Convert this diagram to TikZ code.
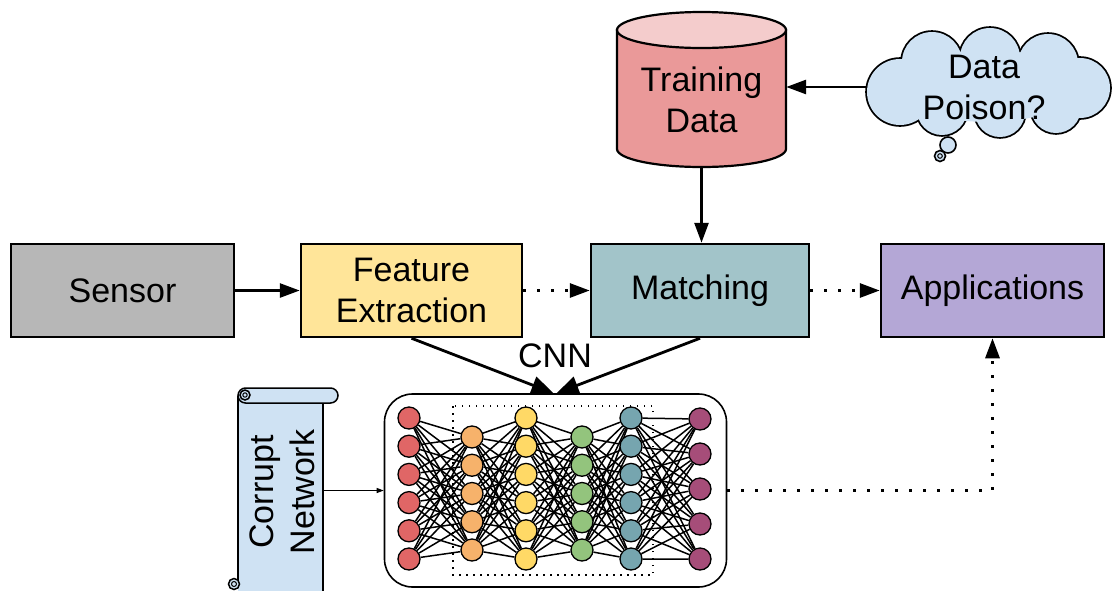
\documentclass[tikz,border=0pt]{standalone}
\usepackage{fontspec}
\setmainfont{Liberation Sans}
\usetikzlibrary{arrows.meta,backgrounds,calc}

\definecolor{sensorgray}{HTML}{B7B7B7}
\definecolor{featyellow}{HTML}{FFE599}
\definecolor{matchteal}{HTML}{A2C4C9}
\definecolor{apppurple}{HTML}{B4A7D6}
\definecolor{dbbody}{HTML}{EA9999}
\definecolor{dbtop}{HTML}{F4CCCC}
\definecolor{paleblue}{HTML}{CFE2F3}
\definecolor{nnred}{HTML}{E06666}
\definecolor{nnorange}{HTML}{F6B26B}
\definecolor{nnyellow}{HTML}{FFD966}
\definecolor{nngreen}{HTML}{93C47D}
\definecolor{nnteal}{HTML}{76A5AF}
\definecolor{nnpurple}{HTML}{A64D79}

\begin{document}
\begin{tikzpicture}[x=1pt,y=-1pt,
  lbl/.style={font=\fontsize{34}{41}\selectfont, align=center},
  stagebox/.style={draw, line width=2.5pt, minimum height=93pt, inner sep=2pt, lbl},
  flow/.style={line width=2.8pt, -{Triangle[length=20pt,width=14pt]}},
  dotflow/.style={line width=3pt, dash pattern=on 3pt off 11pt, -{Triangle[length=20pt,width=14pt]}},
  feed/.style={line width=2.8pt, -{Triangle[length=22pt,width=18pt]}},
  nnode/.style={circle, draw, line width=1.3pt, minimum size=22pt, inner sep=0pt},
  nnedge/.style={line width=1.5pt},
  thinline/.style={line width=1.5pt}
]
\useasboundingbox (0,0) rectangle (1114,590);

% pipeline stages
\node[stagebox, fill=sensorgray, minimum width=223pt] (sensor) at (122.5,290.5) {Sensor};
\node[stagebox, fill=featyellow, minimum width=221pt] (feat) at (411.5,290.5) {Feature\\Extraction};
\node[stagebox, fill=matchteal, minimum width=218pt] (match) at (700,290.5) {Matching};
\node[stagebox, fill=apppurple, minimum width=223pt] (app) at (992.5,290.5) {Applications};

% training data cylinder
\node[minimum width=169pt, minimum height=155pt, inner sep=0pt] (train) at (701.5,89.5) {};
\draw[line width=2.2pt, fill=dbbody] (617,30) -- (617,149)
  arc[start angle=180, end angle=0, x radius=84.5, y radius=18] -- (786,30) -- cycle;
\draw[line width=2.2pt, fill=dbtop] (701.5,30) ellipse [x radius=84.5, y radius=18];
\node[lbl] at (701.5,100) {Training\\Data};

% thought cloud: union of puffs (stroke wide, then fill over the inner half)
\def\puffs{(900,92)/33, (932,62)/30, (990,58)/30, (1048,64)/30, (1080,88)/30,
  (1056,108)/25, (1000,112)/25, (942,110)/25}
\foreach \c/\r in \puffs { \draw[line width=3.6pt] \c circle (\r pt); }
\foreach \c/\r in \puffs { \fill[paleblue] \c circle (\r pt); }
\fill[paleblue] (988,86) ellipse [x radius=90, y radius=36];
\draw[line width=1.6pt, fill=paleblue] (948,145) circle (8pt);
\draw[line width=1.6pt, fill=paleblue] (940,156) circle (5.5pt);
\draw[line width=1pt] (940,156) circle (2.3pt);
\node[lbl, minimum width=234pt, minimum height=105pt, inner sep=0pt] (poison) at (984,87) {Data\\Poison?};

% scroll
\begin{scope}
  \clip (0,0) rectangle (1114,590);
  \fill[paleblue] (238,398) rectangle (323,600);
  \draw[thinline] (238,396) -- (238,580);
  \draw[thinline] (323,403) -- (323,600);
  \draw[thinline, fill=paleblue, rounded corners=7.5pt] (238,388) rectangle (338,403);
  \draw[thinline, fill=paleblue] (245,395) circle (5pt);
  \draw[line width=1pt] (245,395) circle (2.2pt);
  \draw[thinline, fill=paleblue] (234,584) circle (5.5pt);
  \draw[line width=1pt] (234,584) circle (2.5pt);
\end{scope}
\node[minimum width=85pt, minimum height=200pt, inner sep=0pt] (scroll) at (280.5,495) {};
\node[lbl, rotate=90] at (282,492) {Corrupt\\Network};

% network frame
\node[draw, line width=1.6pt, rounded corners=28pt, minimum width=342pt, minimum height=193pt]
  (nnbox) at (555.5,490.5) {};
\draw[line width=1.5pt, dash pattern=on 1.5pt off 5.5pt] (453,406) rectangle (653,575);

% neurons
\foreach \i in {1,...,6} {
  \node[nnode, fill=nnred]    (a\i) at (409, {418+28.2*(\i-1)}) {};
  \node[nnode, fill=nnyellow] (c\i) at (526, {418+28.2*(\i-1)}) {};
  \node[nnode, fill=nnteal]   (e\i) at (631, {418+28.2*(\i-1)}) {};
}
\foreach \i in {1,...,5} {
  \node[nnode, fill=nnorange] (b\i) at (472, {437+28.25*(\i-1)}) {};
  \node[nnode, fill=nngreen]  (d\i) at (582, {437+28.25*(\i-1)}) {};
  \node[nnode, fill=nnpurple] (f\i) at (700, {419+35*(\i-1)}) {};
}

% background and weights
\begin{scope}[on background layer]
  \fill[white] (0,0) rectangle (1114,590);
  \foreach \i in {1,...,6} \foreach \j in {1,...,5} {
    \draw[nnedge] (a\i) -- (b\j);
    \draw[nnedge] (c\i) -- (d\j);
    \draw[nnedge] (e\i) -- (f\j);
    \draw[nnedge] (b\j) -- (c\i);
    \draw[nnedge] (d\j) -- (e\i);
  }
\end{scope}

% connectors
\draw[flow] (sensor) -- (feat);
\draw[dotflow] (feat) -- (match);
\draw[dotflow] (match) -- (app);
\draw[flow] (train.south) -- (train.south |- match.north);
\draw[flow] (poison.west) -- (train.east |- poison.west);
\draw[feed] (feat.south) -- ($(nnbox.north)+(-2,0)$);
\draw[feed] (match.south) -- ($(nnbox.north)+(1,0)$);
\node[lbl] (cnn) at (555,356) {CNN};
\draw[line width=1pt, -{Triangle[length=7pt,width=5pt]}] (scroll.east |- nnbox.west) -- (nnbox.west);
\draw[dotflow] (nnbox.east) -| (app.south);
\end{tikzpicture}
\end{document}
